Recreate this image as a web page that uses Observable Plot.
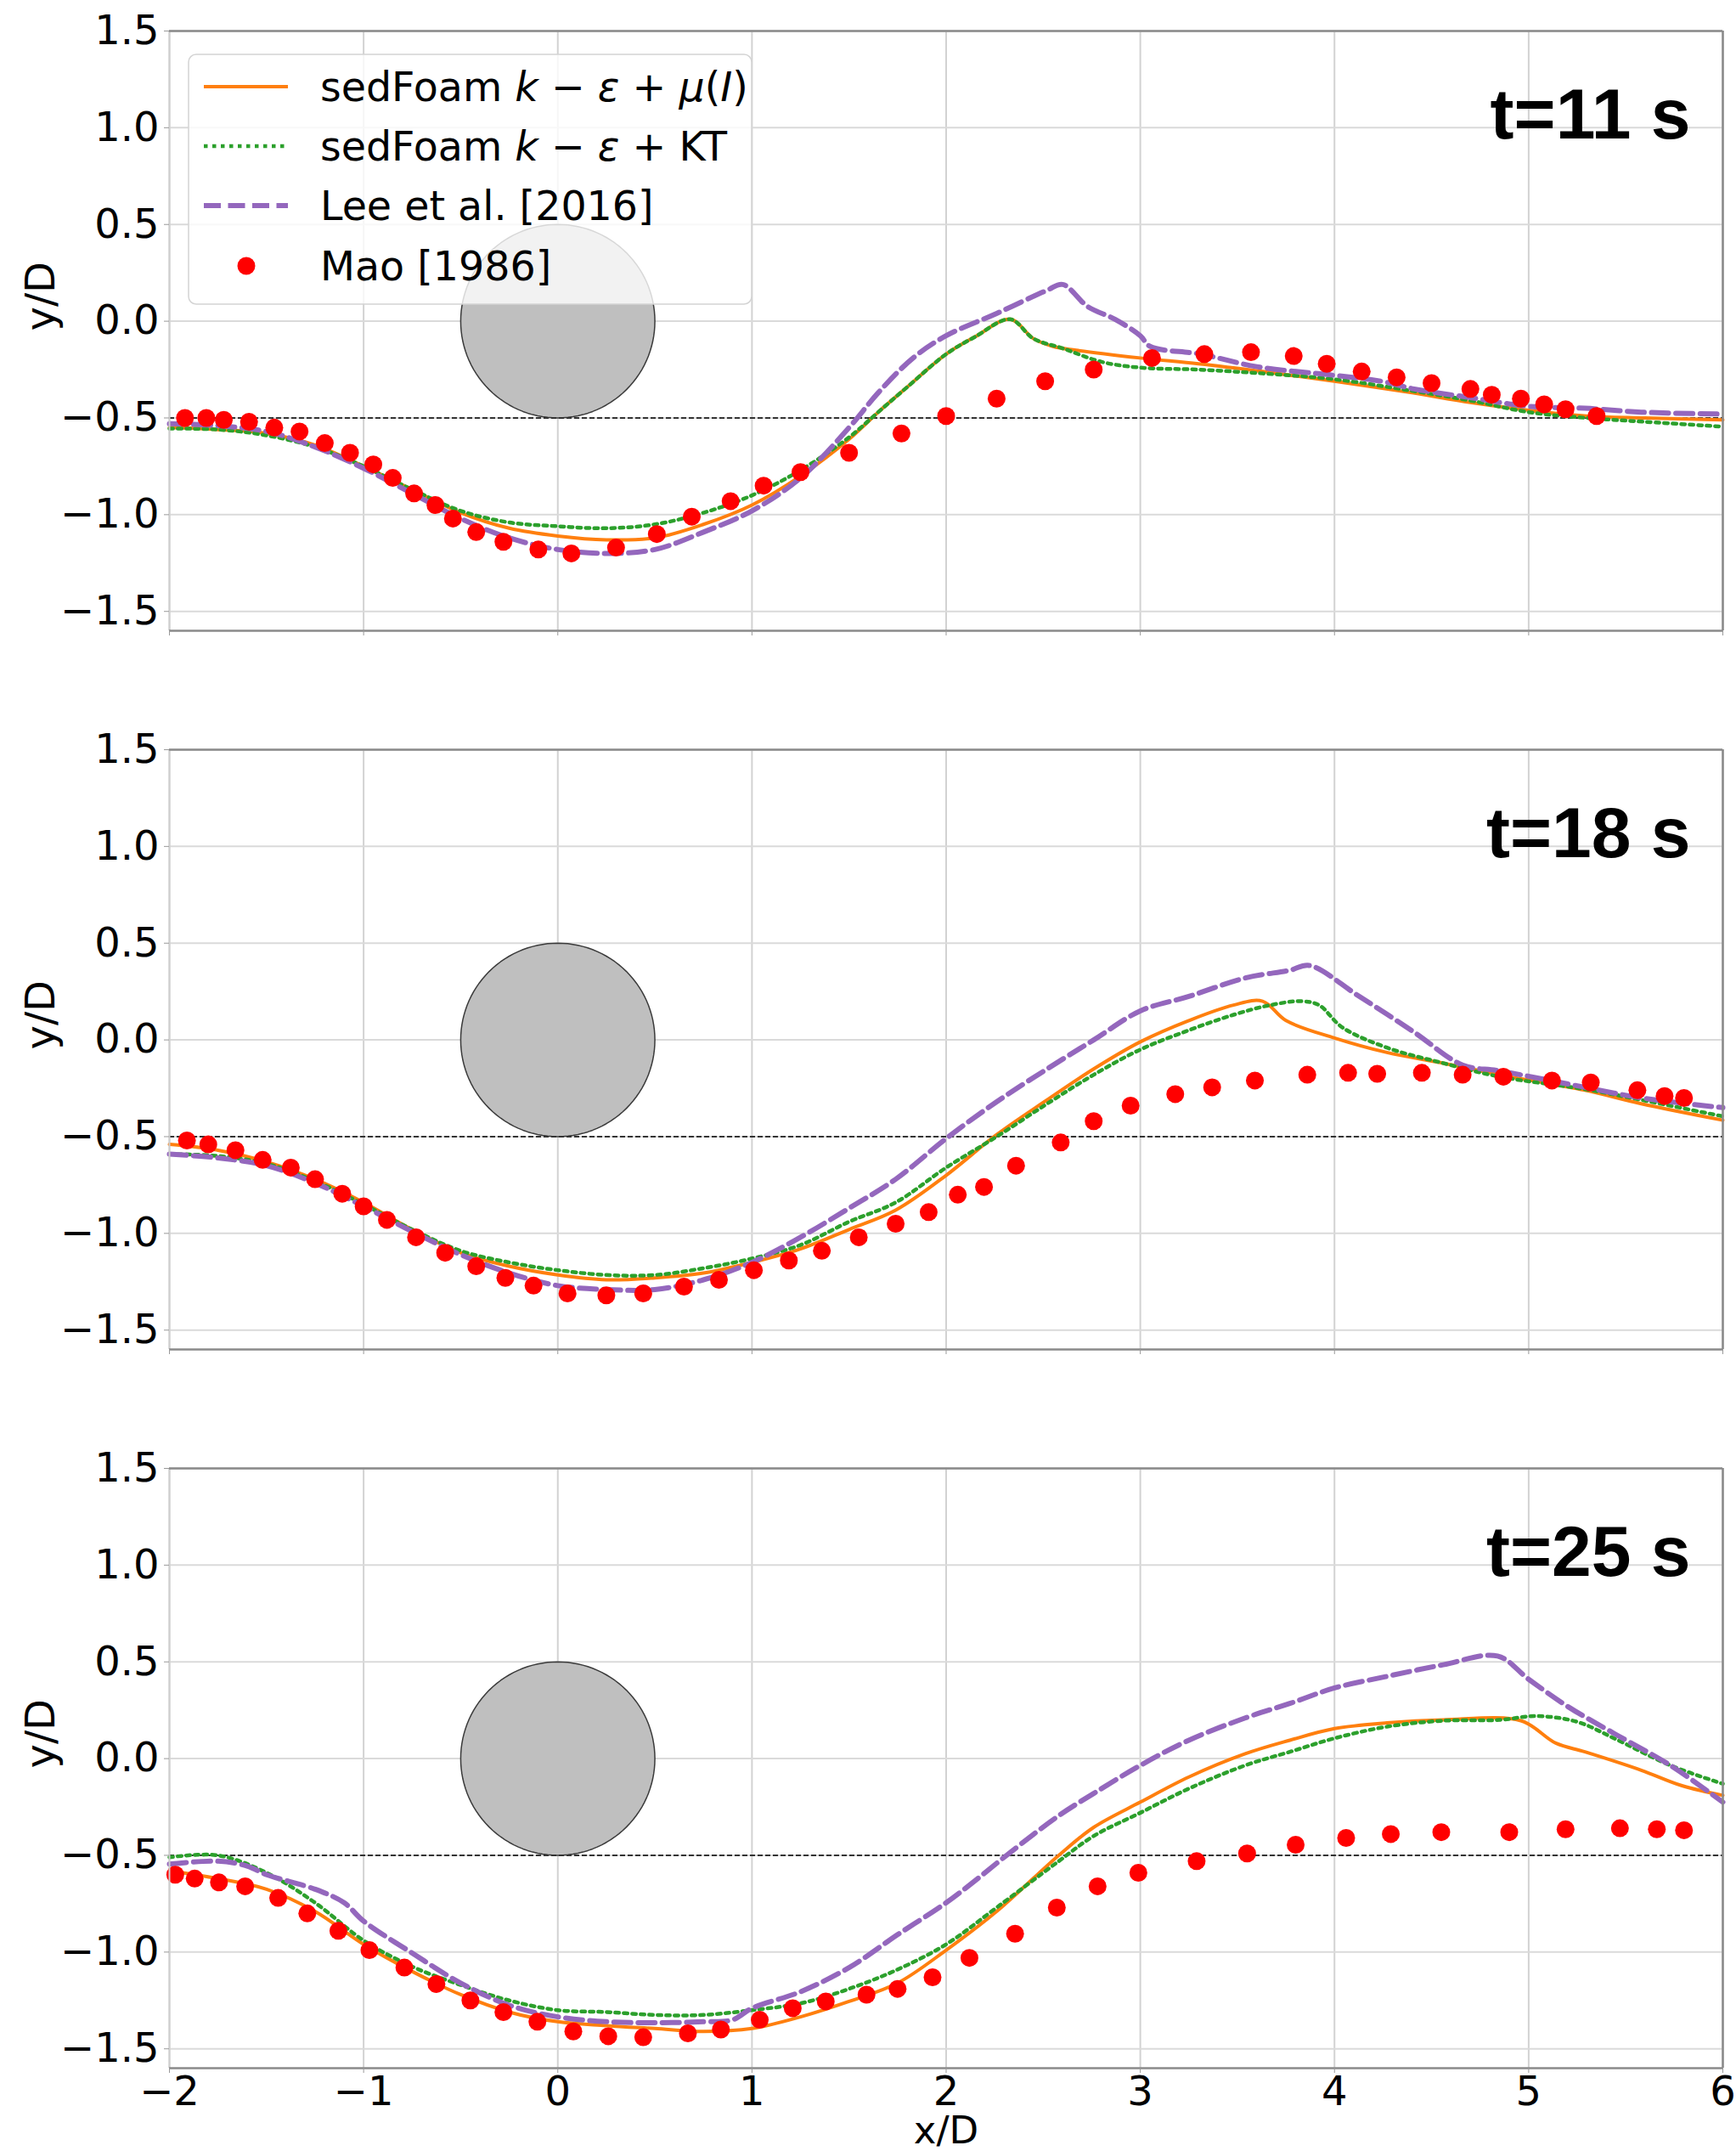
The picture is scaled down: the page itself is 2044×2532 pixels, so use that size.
<!DOCTYPE html>
<html><head><meta charset="utf-8">
<script src="https://cdn.jsdelivr.net/npm/d3@7"></script>
<script src="https://cdn.jsdelivr.net/npm/@observablehq/plot@0.6"></script>
<style>
body{margin:0;background:#fff;}
#wrap{position:relative;width:2044px;height:2532px;overflow:hidden;background:#fff;}
#wrap > svg{display:block;}
#legend{position:absolute;left:221px;top:63px;}
</style></head><body><div id="wrap"></div>
<script>
// ---------- data ----------
const xTicks = [-2, -1, 0, 1, 2, 3, 4, 5, 6];
const yTicks = [-1.5, -1.0, -0.5, 0.0, 0.5, 1.0, 1.5];
const xDomain = [-2, 6];
const yDomain = [-1.6, 1.5];
const times = ["t=11 s", "t=18 s", "t=25 s"];
const seriesNames = ["sedFoam k − ε + μ(I)", "sedFoam k − ε + KT", "Lee et al. [2016]", "Mao [1986]"];
const bedLevel = -0.5;
const cylinder = {cx: 0, cy: 0, r: 0.5};

// t = 11 s
const muI_t11 = [[-2.0,-0.55],[-1.75,-0.56],[-1.5,-0.58],[-1.25,-0.64],[-1.0,-0.75],[-0.75,-0.87],[-0.5,-0.99],[-0.25,-1.07],[0,-1.11],[0.25,-1.13],[0.5,-1.12],[0.75,-1.05],[1.0,-0.95],[1.25,-0.80],[1.5,-0.61],[1.65,-0.47],[1.8,-0.34],[2.0,-0.17],[2.15,-0.08],[2.33,0.01],[2.45,-0.09],[2.55,-0.13],[2.67,-0.15],[3.0,-0.19],[3.3,-0.22],[3.63,-0.26],[4.0,-0.31],[4.4,-0.37],[4.7,-0.42],[5.0,-0.46],[5.3,-0.49],[5.6,-0.50],[6.0,-0.51]];
const kt_t11 = [[-2.0,-0.555],[-1.75,-0.56],[-1.5,-0.59],[-1.25,-0.65],[-1.0,-0.75],[-0.75,-0.87],[-0.5,-0.98],[-0.25,-1.04],[0,-1.06],[0.25,-1.07],[0.5,-1.05],[0.75,-0.99],[1.0,-0.90],[1.25,-0.77],[1.5,-0.60],[1.65,-0.47],[1.8,-0.34],[2.0,-0.17],[2.15,-0.08],[2.33,0.01],[2.45,-0.09],[2.6,-0.14],[2.8,-0.21],[3.0,-0.24],[3.3,-0.25],[3.63,-0.27],[4.0,-0.30],[4.4,-0.36],[4.7,-0.41],[5.0,-0.47],[5.3,-0.50],[5.6,-0.52],[6.0,-0.545]];
const lee_t11 = [[-2.0,-0.53],[-1.75,-0.54],[-1.5,-0.57],[-1.25,-0.65],[-1.0,-0.76],[-0.75,-0.89],[-0.5,-1.02],[-0.25,-1.12],[0,-1.18],[0.25,-1.20],[0.5,-1.18],[0.75,-1.09],[1.0,-0.98],[1.25,-0.81],[1.5,-0.55],[1.65,-0.37],[1.83,-0.19],[2.0,-0.075],[2.26,0.04],[2.52,0.16],[2.6,0.19],[2.73,0.075],[2.87,0.01],[3.0,-0.075],[3.05,-0.13],[3.31,-0.17],[3.6,-0.235],[4.0,-0.28],[4.24,-0.31],[4.41,-0.35],[4.7,-0.395],[5.0,-0.44],[5.29,-0.45],[5.58,-0.47],[6.0,-0.48]];
const mao_t11 = [[-1.92,-0.50],[-1.81,-0.50],[-1.72,-0.51],[-1.59,-0.52],[-1.46,-0.55],[-1.33,-0.57],[-1.20,-0.63],[-1.07,-0.68],[-0.95,-0.74],[-0.85,-0.81],[-0.74,-0.89],[-0.63,-0.95],[-0.54,-1.02],[-0.42,-1.09],[-0.28,-1.14],[-0.10,-1.18],[0.07,-1.20],[0.30,-1.17],[0.51,-1.10],[0.69,-1.01],[0.89,-0.93],[1.06,-0.85],[1.25,-0.78],[1.50,-0.68],[1.77,-0.58],[2.00,-0.49],[2.26,-0.40],[2.51,-0.31],[2.76,-0.25],[3.06,-0.19],[3.33,-0.17],[3.57,-0.16],[3.79,-0.18],[3.96,-0.22],[4.14,-0.26],[4.32,-0.29],[4.50,-0.32],[4.70,-0.35],[4.81,-0.38],[4.96,-0.40],[5.08,-0.43],[5.19,-0.455],[5.35,-0.49]];

// t = 18 s
const muI_t18 = [[-2.0,-0.54],[-1.75,-0.57],[-1.5,-0.63],[-1.25,-0.72],[-1.0,-0.84],[-0.75,-0.98],[-0.5,-1.10],[-0.25,-1.17],[0,-1.215],[0.25,-1.24],[0.5,-1.23],[0.75,-1.205],[1.0,-1.15],[1.25,-1.08],[1.5,-0.98],[1.74,-0.88],[2.0,-0.70],[2.26,-0.49],[2.52,-0.31],[2.76,-0.15],[3.0,-0.01],[3.25,0.10],[3.48,0.18],[3.63,0.20],[3.75,0.10],[4.0,0.01],[4.27,-0.065],[4.56,-0.12],[4.85,-0.18],[5.29,-0.26],[5.58,-0.33],[6.0,-0.415]];
const kt_t18 = [[-2.0,-0.59],[-1.75,-0.60],[-1.5,-0.64],[-1.25,-0.73],[-1.0,-0.85],[-0.75,-0.98],[-0.5,-1.09],[-0.25,-1.15],[0,-1.19],[0.25,-1.215],[0.5,-1.215],[0.75,-1.18],[1.0,-1.13],[1.25,-1.06],[1.5,-0.94],[1.74,-0.84],[2.0,-0.66],[2.26,-0.50],[2.52,-0.33],[2.76,-0.18],[3.0,-0.05],[3.25,0.05],[3.48,0.13],[3.67,0.18],[3.83,0.20],[3.92,0.18],[4.04,0.065],[4.27,-0.04],[4.56,-0.12],[4.85,-0.19],[5.29,-0.255],[5.58,-0.31],[6.0,-0.395]];
const lee_t18 = [[-2.0,-0.59],[-1.75,-0.61],[-1.5,-0.65],[-1.25,-0.74],[-1.0,-0.86],[-0.75,-0.99],[-0.5,-1.11],[-0.25,-1.205],[0,-1.27],[0.25,-1.29],[0.5,-1.29],[0.75,-1.24],[1.0,-1.15],[1.25,-1.02],[1.5,-0.87],[1.74,-0.72],[2.0,-0.51],[2.26,-0.32],[2.52,-0.15],[2.76,0.0],[3.0,0.15],[3.25,0.225],[3.54,0.32],[3.77,0.36],[3.87,0.385],[4.12,0.23],[4.41,0.04],[4.66,-0.13],[4.85,-0.16],[5.29,-0.245],[5.58,-0.30],[6.0,-0.35]];
const mao_t18 = [[-1.91,-0.52],[-1.80,-0.54],[-1.66,-0.57],[-1.52,-0.62],[-1.375,-0.66],[-1.25,-0.72],[-1.11,-0.795],[-1.0,-0.86],[-0.88,-0.93],[-0.73,-1.02],[-0.58,-1.10],[-0.42,-1.17],[-0.27,-1.23],[-0.125,-1.27],[0.05,-1.31],[0.25,-1.32],[0.44,-1.31],[0.65,-1.275],[0.83,-1.24],[1.01,-1.19],[1.19,-1.14],[1.36,-1.09],[1.55,-1.02],[1.74,-0.95],[1.91,-0.89],[2.06,-0.80],[2.195,-0.76],[2.36,-0.65],[2.59,-0.53],[2.76,-0.42],[2.95,-0.34],[3.18,-0.28],[3.37,-0.245],[3.59,-0.21],[3.86,-0.18],[4.07,-0.17],[4.22,-0.175],[4.45,-0.17],[4.66,-0.18],[4.87,-0.19],[5.12,-0.21],[5.32,-0.22],[5.56,-0.26],[5.70,-0.29],[5.80,-0.30]];

// t = 25 s
const muI_t25 = [[-2.0,-0.58],[-1.75,-0.62],[-1.5,-0.675],[-1.25,-0.79],[-1.0,-0.96],[-0.75,-1.10],[-0.5,-1.22],[-0.25,-1.31],[0,-1.36],[0.25,-1.38],[0.5,-1.395],[0.75,-1.41],[1.0,-1.395],[1.25,-1.335],[1.5,-1.255],[1.75,-1.16],[2.0,-0.99],[2.26,-0.79],[2.58,-0.50],[2.76,-0.355],[3.0,-0.225],[3.25,-0.095],[3.54,0.025],[3.77,0.095],[4.0,0.155],[4.27,0.185],[4.56,0.20],[4.96,0.196],[5.14,0.08],[5.29,0.035],[5.58,-0.06],[5.79,-0.14],[6.0,-0.19]];
const kt_t25 = [[-2.0,-0.51],[-1.75,-0.50],[-1.5,-0.59],[-1.25,-0.745],[-1.0,-0.94],[-0.75,-1.075],[-0.5,-1.17],[-0.25,-1.25],[0,-1.30],[0.25,-1.31],[0.5,-1.325],[0.75,-1.325],[1.0,-1.30],[1.25,-1.265],[1.5,-1.19],[1.75,-1.09],[2.0,-0.96],[2.26,-0.77],[2.58,-0.53],[2.76,-0.40],[3.0,-0.28],[3.25,-0.155],[3.54,-0.035],[3.77,0.035],[4.0,0.105],[4.27,0.165],[4.56,0.196],[4.85,0.20],[5.04,0.22],[5.25,0.19],[5.44,0.105],[5.73,-0.035],[6.0,-0.13]];
const lee_t25 = [[-2.0,-0.545],[-1.75,-0.53],[-1.6,-0.555],[-1.5,-0.60],[-1.25,-0.675],[-1.1,-0.745],[-1.0,-0.84],[-0.75,-1.005],[-0.5,-1.16],[-0.25,-1.275],[0,-1.335],[0.25,-1.36],[0.5,-1.365],[0.75,-1.36],[0.9,-1.35],[1.0,-1.29],[1.25,-1.205],[1.5,-1.08],[1.75,-0.91],[2.0,-0.745],[2.15,-0.63],[2.33,-0.485],[2.58,-0.295],[2.76,-0.18],[3.0,-0.035],[3.25,0.095],[3.54,0.21],[3.77,0.285],[4.0,0.365],[4.27,0.425],[4.56,0.485],[4.84,0.53],[5.0,0.41],[5.2,0.27],[5.44,0.13],[5.73,-0.035],[6.0,-0.225]];
const mao_t25 = [[-1.97,-0.60],[-1.87,-0.62],[-1.745,-0.64],[-1.61,-0.66],[-1.44,-0.72],[-1.29,-0.80],[-1.13,-0.89],[-0.97,-0.99],[-0.79,-1.08],[-0.625,-1.165],[-0.45,-1.25],[-0.28,-1.31],[-0.105,-1.36],[0.08,-1.41],[0.26,-1.435],[0.44,-1.44],[0.67,-1.42],[0.84,-1.40],[1.04,-1.35],[1.21,-1.29],[1.38,-1.255],[1.59,-1.22],[1.75,-1.19],[1.93,-1.13],[2.12,-1.03],[2.355,-0.905],[2.57,-0.77],[2.78,-0.66],[2.99,-0.59],[3.29,-0.53],[3.55,-0.49],[3.80,-0.445],[4.06,-0.41],[4.29,-0.39],[4.55,-0.38],[4.90,-0.38],[5.19,-0.365],[5.47,-0.36],[5.66,-0.365],[5.80,-0.37]];

const panels = [
  {title: times[0], muI: muI_t11, kt: kt_t11, lee: lee_t11, mao: mao_t11},
  {title: times[1], muI: muI_t18, kt: kt_t18, lee: lee_t18, mao: mao_t18},
  {title: times[2], muI: muI_t25, kt: kt_t25, lee: lee_t25, mao: mao_t25}
];

// ---------- styles ----------
const C = {muI: "#ff7f0e", kt: "#2ca02c", lee: "#9467bd", mao: "#ff0000"};
const W = {muI: 4, kt: 4.5, lee: 6};
const DASH = {kt: "4.5,5.5", lee: "20,8.5"};
const FONT = "'DejaVu Sans', sans-serif";
const X = d => d[0], Y = d => d[1];

// cylinder outline (geometry, not data)
const cylOutline = d3.range(0, 361, 3).map(a => [cylinder.cx + cylinder.r * Math.cos(a * Math.PI / 180), cylinder.cy + cylinder.r * Math.sin(a * Math.PI / 180)]);

const wrap = document.getElementById("wrap");

panels.forEach((p, i) => {
  const last = i === panels.length - 1;
  const chart = Plot.plot({
    width: 2044,
    height: last ? 840 : 846,
    marginTop: 36,
    marginBottom: last ? 98 : 104,
    marginLeft: 199,
    marginRight: 16,
    style: {fontFamily: FONT, fontSize: "48px", background: "white", color: "black", overflow: "visible"},
    x: {domain: xDomain},
    y: {domain: yDomain},
    marks: [
      Plot.gridX(xTicks, {stroke: "#d2d2d2", strokeOpacity: 1, strokeWidth: 2}),
      Plot.gridY(yTicks, {stroke: "#dadada", strokeOpacity: 1, strokeWidth: 2}),
      Plot.line(cylOutline, {x: X, y: Y, fill: "#bfbfbf", stroke: "#3a3a3a", strokeWidth: 1.5}),
      Plot.ruleY([bedLevel], {stroke: "#333", strokeWidth: 1.8, strokeDasharray: "6,3"}),
      Plot.line(p.muI, {x: X, y: Y, stroke: C.muI, strokeWidth: W.muI, curve: "catmull-rom"}),
      Plot.line(p.kt, {x: X, y: Y, stroke: C.kt, strokeWidth: W.kt, strokeDasharray: DASH.kt, curve: "catmull-rom"}),
      Plot.line(p.lee, {x: X, y: Y, stroke: C.lee, strokeWidth: W.lee, strokeDasharray: DASH.lee, curve: "catmull-rom"}),
      Plot.dot(p.mao, {x: X, y: Y, r: 10.5, fill: C.mao, stroke: "none"}),
      Plot.ruleX([xDomain[0]], {stroke: "#cfcfcf", strokeWidth: 2}),
      Plot.ruleY([yDomain[1]], {stroke: "#8a8a8a", strokeWidth: 2.5}),
      Plot.ruleY([yDomain[0]], {stroke: "#8a8a8a", strokeWidth: 2.5}),
      Plot.ruleX([xDomain[1]], {stroke: "#8a8a8a", strokeWidth: 2.5}),
      Plot.axisY(yTicks, {tickFormat: d3.format(".1f"), tickSize: 6, tickPadding: 6, stroke: "#999", label: null, fontSize: 48}),
      last
        ? Plot.axisX(xTicks, {tickFormat: d3.format("d"), tickSize: 6, tickPadding: 3, stroke: "#999", label: null, fontSize: 48})
        : Plot.axisX(xTicks, {tickFormat: () => "", tickSize: 6, stroke: "#999", label: null}),
      Plot.text(["y/D"], {frameAnchor: "left", dx: -151, rotate: -90, fontSize: 48, fill: "black"}),
      Plot.text([p.title], {frameAnchor: "top-right", dx: -38, dy: 100, textAnchor: "end", lineAnchor: "middle",
        fontSize: 84, fontWeight: "bold", fontFamily: "'Liberation Sans', Arial, sans-serif", fill: "black"}),
      last ? Plot.text(["x/D"], {frameAnchor: "bottom", dy: 74, lineAnchor: "middle", fontSize: 45, fill: "black"}) : null
    ]
  });
  wrap.appendChild(chart);
});

// ---------- legend (inside first panel) ----------
const lg = d3.create("svg").attr("id", "legend").attr("width", 666).attr("height", 298)
  .style("font-family", FONT).style("font-size", "47.5px");
lg.append("rect").attr("x", 1).attr("y", 1).attr("width", 663).attr("height", 294).attr("rx", 9)
  .attr("fill", "white").attr("fill-opacity", 0.8).attr("stroke", "#d4d4d4").attr("stroke-width", 1.5);
const rows = [39, 109, 179, 250];
const styles = [
  {stroke: C.muI, w: W.muI, dash: null},
  {stroke: C.kt, w: W.kt, dash: DASH.kt},
  {stroke: C.lee, w: W.lee, dash: DASH.lee}
];
styles.forEach((s, k) => {
  lg.append("line").attr("x1", 19).attr("x2", 118).attr("y1", rows[k]).attr("y2", rows[k])
    .attr("stroke", s.stroke).attr("stroke-width", s.w).attr("stroke-dasharray", s.dash);
});
lg.append("circle").attr("cx", 69).attr("cy", rows[3]).attr("r", 10.5).attr("fill", C.mao);

function mathLabel(t, parts) {
  parts.forEach(([str, it]) => t.append("tspan").attr("font-style", it ? "italic" : null).text(str));
}
const t0 = lg.append("text").attr("x", 156).attr("y", rows[0]).attr("dy", "0.36em");
mathLabel(t0, [["sedFoam ", 0], ["k", 1], [" − ", 0], ["ε", 1], [" + ", 0], ["μ", 1], ["(", 0], ["I", 1], [")", 0]]);
const t1 = lg.append("text").attr("x", 156).attr("y", rows[1]).attr("dy", "0.36em");
mathLabel(t1, [["sedFoam ", 0], ["k", 1], [" − ", 0], ["ε", 1], [" + KT", 0]]);
lg.append("text").attr("x", 156).attr("y", rows[2]).attr("dy", "0.36em").text(seriesNames[2]);
lg.append("text").attr("x", 156).attr("y", rows[3]).attr("dy", "0.36em").text(seriesNames[3]);
wrap.appendChild(lg.node());
</script></body></html>
